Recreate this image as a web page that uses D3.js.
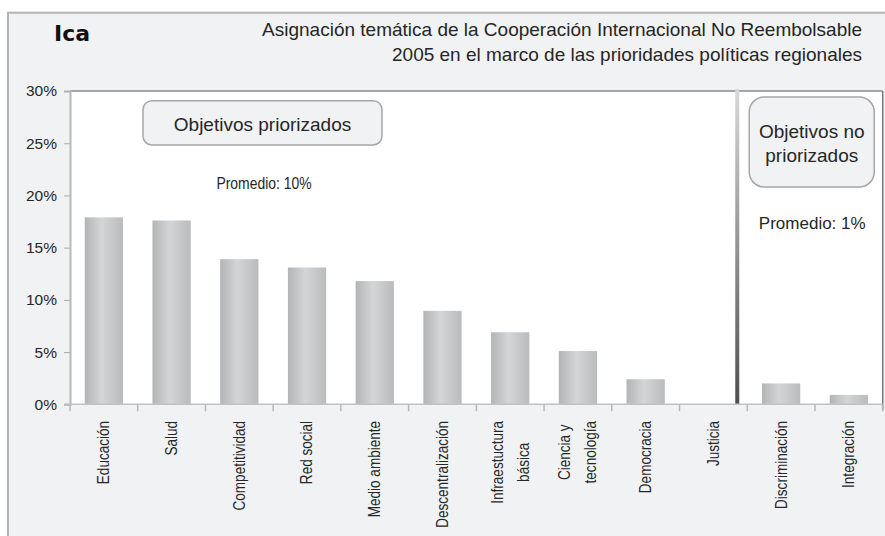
<!DOCTYPE html>
<html>
<head>
<meta charset="utf-8">
<script src="https://cdn.jsdelivr.net/npm/d3@7"></script>
<style>
body { margin: 0; background: #fff; }
text { font-family: "Liberation Sans", Arial, sans-serif; fill: #262626; }
</style>
</head>
<body>
<div id="chart"></div>
<script>
// data
var categories = ["Educación", "Salud", "Competitividad", "Red social", "Medio ambiente",
  "Descentralización", "Infraestuctura\nbásica", "Ciencia y\ntecnología", "Democracia",
  "Justicia", "Discriminación", "Integración"];
var shares = [0.179, 0.176, 0.139, 0.131, 0.118, 0.0895, 0.069, 0.051, 0.024, 0, 0.020, 0.009];
var yTicks = [0, 0.05, 0.10, 0.15, 0.20, 0.25, 0.30];
var region = "Ica";
var titleLines = ["Asignación temática de la Cooperación Internacional No Reembolsable",
  "2005 en el marco de las prioridades políticas regionales"];
var groupNames = [["Objetivos priorizados"], ["Objetivos no", "priorizados"]];
var averages = ["Promedio: 10%", "Promedio: 1%"];

var W = 885, H = 536;
var margin = {top: 91, right: 2.3, bottom: 131.7, left: 70},
    width = W - margin.left - margin.right,
    height = H - margin.top - margin.bottom;
var narrow = 0.82; // no Arial Narrow here, so squeeze the regular face

var x = d3.scaleBand().domain(categories).range([0, width])
    .paddingInner(0.435).paddingOuter(0.2175);
var y = d3.scaleLinear().domain([0, 0.30]).range([height, 0]);

var root = d3.select("#chart").append("svg")
    .attr("width", W).attr("height", H);

var defs = root.append("defs");
var bg = defs.append("linearGradient").attr("id", "barGrad")
    .attr("x1", 0).attr("x2", 1).attr("y1", 0).attr("y2", 0);
bg.append("stop").attr("offset", "0%").attr("stop-color", "#b3b4b6");
bg.append("stop").attr("offset", "45%").attr("stop-color", "#d4d5d7");
bg.append("stop").attr("offset", "100%").attr("stop-color", "#babbbd");
var dg = defs.append("linearGradient").attr("id", "divGrad")
    .attr("x1", 0).attr("x2", 0).attr("y1", 0).attr("y2", 1);
dg.append("stop").attr("offset", "0%").attr("stop-color", "#d8d8d8");
dg.append("stop").attr("offset", "100%").attr("stop-color", "#4e4e4e");

// outer panel
root.append("rect")
    .attr("x", 8).attr("y", 12.7).attr("width", W).attr("height", H)
    .attr("fill", "#f1f2f4").attr("stroke", "#b4b4b4").attr("stroke-width", 2);

// title
root.append("text")
    .attr("x", 54).attr("y", 41)
    .style("font-family", "'DejaVu Sans', sans-serif")
    .style("font-weight", "bold").style("font-size", "22px").style("fill", "#111")
    .text(region);
root.selectAll(".title").data(titleLines).enter().append("text")
    .attr("class", "title")
    .attr("x", 862).attr("y", function(d, i) { return 36 + i * 25; })
    .attr("text-anchor", "end")
    .style("font-size", "19px")
    .text(function(d) { return d; });

var svg = root.append("g")
    .attr("transform", "translate(" + margin.left + "," + margin.top + ")");

// plot area
svg.append("rect").attr("width", width).attr("height", height).attr("fill", "#fff");
svg.append("line").attr("x1", 0).attr("x2", width).attr("y1", 0).attr("y2", 0)
    .attr("stroke", "#555").attr("stroke-width", 1.2);
svg.append("line").attr("x1", width).attr("x2", width).attr("y1", 0).attr("y2", height + 6)
    .attr("stroke", "#777").attr("stroke-width", 1.5);

// bars
svg.selectAll(".bar").data(shares).enter().append("rect")
    .attr("class", "bar")
    .attr("x", function(d, i) { return x(categories[i]); })
    .attr("width", x.bandwidth())
    .attr("y", function(d) { return y(d); })
    .attr("height", function(d) { return height - y(d); })
    .attr("fill", "url(#barGrad)");

// divider between prioritised and non prioritised groups
var split = x("Discriminación") - x.step() * x.paddingInner() / 2;
svg.append("rect")
    .attr("x", split - 12).attr("y", -2).attr("width", 4).attr("height", height + 2)
    .attr("fill", "url(#divGrad)");

// y axis
var yAxis = svg.append("g")
    .call(d3.axisLeft(y).tickValues(yTicks).tickFormat(d3.format(".0%"))
      .tickSize(6).tickPadding(7));
yAxis.select(".domain").attr("stroke", "#b8b8b8").attr("stroke-width", 2);
yAxis.selectAll(".tick line").attr("stroke", "#aaa");
yAxis.selectAll(".tick text")
    .style("font-family", "'Liberation Sans', Arial, sans-serif")
    .style("font-size", "15.5px").style("fill", "#262626");

// x axis, ticks between the categories
var bounds = categories.map(function(c) { return x(c) - x.step() * x.paddingInner() / 2; });
bounds.push(width);
svg.append("line").attr("x1", -5).attr("x2", width).attr("y1", height).attr("y2", height)
    .attr("stroke", "#c2c2c2").attr("stroke-width", 1.5);
svg.selectAll(".xtick").data(bounds).enter().append("line")
    .attr("class", "xtick")
    .attr("x1", function(d) { return d; }).attr("x2", function(d) { return d; })
    .attr("y1", height).attr("y2", height + 7)
    .attr("stroke", "#b8b8b8").attr("stroke-width", 1.5);

// category labels, rotated, top-aligned under the axis
var lh = 26;
categories.forEach(function(c) {
  var lines = c.split("\n");
  var cx = x(c) + x.bandwidth() / 2;
  var g = svg.append("g")
      .attr("transform", "translate(" + cx + "," + (height + 16.7) + ") rotate(-90) scale(" + narrow + ",1)");
  var t = g.append("text")
      .attr("text-anchor", "middle")
      .style("font-size", "16.5px");
  lines.forEach(function(l, i) {
    t.append("tspan")
      .attr("x", 0)
      .attr("y", (i - (lines.length - 1) / 2) * lh)
      .attr("dy", "0.33em")
      .text(l);
  });
  var len = d3.max(t.selectAll("tspan").nodes(), function(n) { return n.getComputedTextLength(); });
  t.selectAll("tspan").attr("x", -len / 2);
});

// group boxes
svg.append("rect")
    .attr("x", 73).attr("y", 9.7).attr("width", 239).attr("height", 44.3)
    .attr("rx", 9).attr("fill", "#f1f2f4").attr("stroke", "#a6a6a6").attr("stroke-width", 1.5);
svg.append("text")
    .attr("x", 192.5).attr("y", 40).attr("text-anchor", "middle")
    .style("font-size", "19px")
    .text(groupNames[0][0]);

svg.append("rect")
    .attr("x", split + 2).attr("y", 6).attr("width", 125).attr("height", 90)
    .attr("rx", 15).attr("fill", "#f1f2f4").attr("stroke", "#a6a6a6").attr("stroke-width", 1.5);
svg.selectAll(".grp2").data(groupNames[1]).enter().append("text")
    .attr("class", "grp2")
    .attr("x", split + 64.5).attr("y", function(d, i) { return 47.3 + i * 23.4; })
    .attr("text-anchor", "middle")
    .style("font-size", "19px")
    .text(function(d) { return d; });

// averages
svg.append("g")
    .attr("transform", "translate(194,98) scale(" + narrow + ",1)")
  .append("text")
    .attr("text-anchor", "middle")
    .style("font-size", "17px")
    .text(averages[0]);
svg.append("text")
    .attr("x", split + 65).attr("y", 138).attr("text-anchor", "middle")
    .style("font-size", "17px")
    .text(averages[1]);
</script>
</body>
</html>
